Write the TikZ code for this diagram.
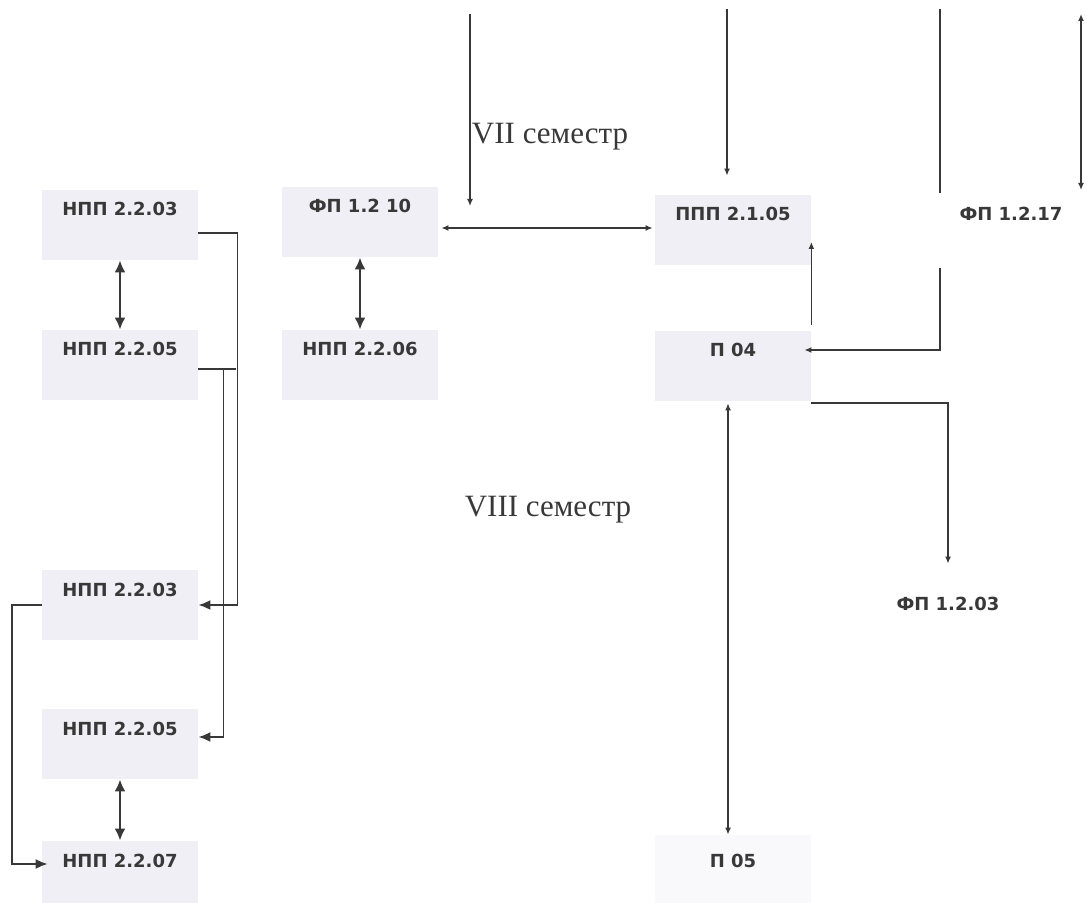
\documentclass[tikz,border=0pt]{standalone}
\usepackage{fontspec}
\setmainfont{Liberation Serif}
\newfontfamily\boxfont{DejaVu Sans}
\usetikzlibrary{arrows.meta, calc}
\definecolor{boxfill}{HTML}{EFEFF5}
\definecolor{inkgrey}{HTML}{383838}
\tikzset{
  plan/.style={x=0.5pt, y=-0.5pt},
  block/.style={
    fill=boxfill, inner sep=0pt, minimum width=78pt,
    text height=13pt, text depth=22pt, text=inkgrey,
    font=\boxfont\bfseries\fontsize{9}{11}\selectfont,
  },
  plainblock/.style={block, fill=white},
  wire/.style={draw=inkgrey, line width=0.9pt},
  flow/.style={wire, -{Latex[length=3.5pt, width=3pt]}},
  biflow/.style={wire, {Latex[length=3.5pt, width=3pt]}-{Latex[length=3.5pt, width=3pt]}},
  link/.style={draw=inkgrey, line width=0.9pt, -{Latex[length=6pt, width=5pt]}},
  bilink/.style={draw=inkgrey, line width=1.2pt, {Latex[length=6pt, width=5.5pt]}-{Latex[length=6pt, width=5.5pt]}},
  semlbl/.style={font=\fontsize{15.5}{18}\selectfont, text=inkgrey, inner sep=0pt},
}
\begin{document}
\begin{tikzpicture}[plan]
  \useasboundingbox (0,0) rectangle (1087,903);

  % left column
  \node[block] (a1) at (120,225) {НПП 2.2.03};
  \node[block] (a2) at (120,365) {НПП 2.2.05};
  \node[block] (d1) at (120,605) {НПП 2.2.03};
  \node[block] (d2) at (120,744) {НПП 2.2.05};
  \node[block] (d3) at (120,876) {НПП 2.2.07};

  % middle and right
  \node[block] (b1) at (360,222) {ФП 1.2 10};
  \node[block] (b2) at (360,365) {НПП 2.2.06};
  \node[block] (c1) at (733,230) {ППП 2.1.05};
  \node[block] (c2) at (733,366) {П 04};
  \node[plainblock, minimum width=71pt, text height=14pt, text depth=23.5pt] (f17) at (1011,230.5) {ФП 1.2.17};
  \node[plainblock, text height=23pt, text depth=12pt] (f03) at (948,599) {ФП 1.2.03};
  \node[plainblock, fill=boxfill!40, text height=16pt, text depth=19pt] (p05) at (733,870) {П 05};

  \node[semlbl] (sem7) at (550,137) {VII семестр};
  \node[semlbl] (sem8) at (548,510) {VIII семестр};

  \coordinate (in1) at (470,14);
  \coordinate (in1end) at (470,206);
  \coordinate (in2) at (727,9);
  \coordinate (in3) at ($(f17.north west)+(0,-184)$);
  \coordinate (in4) at (1081,14);
  \coordinate (in4end) at (1081,190);

  % left links
  \draw[bilink] (a1.south) -- (a2.north);
  \draw[bilink] (b1.south) -- (b2.north);
  \draw[bilink] (d2.south) -- (d3.north);
  \draw[link] ($(a1.east)+(0,8)$) -- ++(39,0) |- (d1.east);
  \draw[link] ($(a2.east)+(0,4)$) -- ++(38,0) ++(-13,0) |- ($(d2.east)+(0,-7)$);
  \draw[link] (d1.west) -- ++(-30,0) |- ($(d3.west)+(6,-12)$);

  % right links
  \draw[flow] (in1) -- (in1end);
  \draw[biflow] ($(b1.east)+(3,6)$) -- ($(c1.west)+(-2,-2)$);
  \draw[flow] (in2) -- ($(c1.north)+(-6,-19)$);
  \draw[wire] (in3) -- (f17.north west);
  \draw[biflow] (in4) -- (in4end);
  \draw[flow] ($(c2.north east)+(0,-6)$) -- ($(c1.east)+(0,12)$);
  \draw[flow] (f17.south west) |- ($(c2.east)+(-7,-16)$);
  \draw[flow] ($(c2.south east)+(0,2)$) -| (f03.north);
  \draw[biflow] ($(c2.south)+(-5,2)$) -- ($(p05.north)+(-5,0)$);
\end{tikzpicture}
\end{document}
